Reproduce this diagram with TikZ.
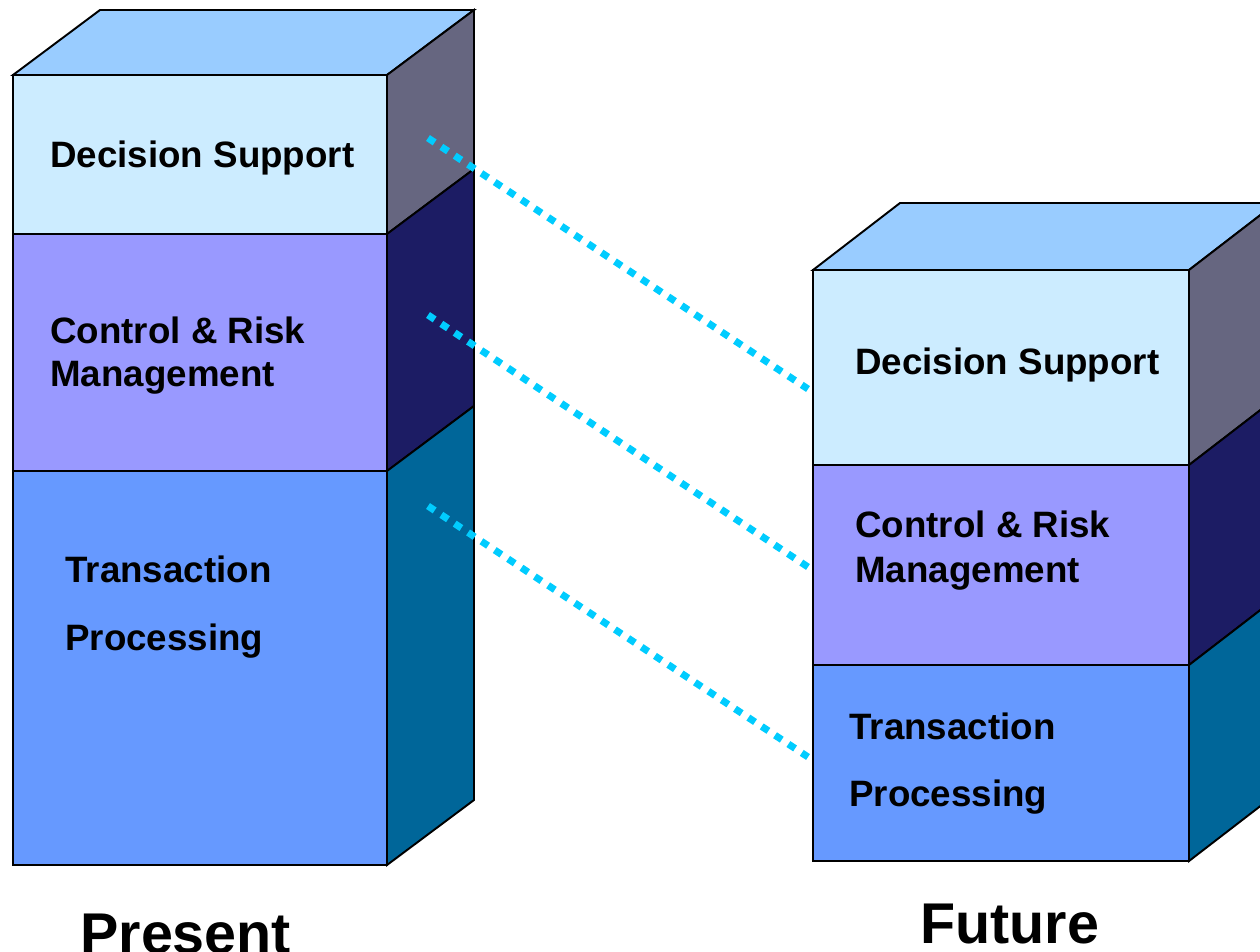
\documentclass[tikz,border=0pt]{standalone}
\usepackage{fontspec}
\setmainfont{Liberation Sans}
\definecolor{topc}{HTML}{99CCFF}
\definecolor{dsf}{HTML}{CCECFF}
\definecolor{dss}{HTML}{666680}
\definecolor{crf}{HTML}{9999FF}
\definecolor{crs}{HTML}{1C1C64}
\definecolor{tpf}{HTML}{6699FF}
\definecolor{tps}{HTML}{006699}
\definecolor{linkc}{HTML}{00CCFF}
\begin{document}
\begin{tikzpicture}[x=0.02cm,y=-0.02cm,
  edge/.style={draw=black,line width=1.1pt,line join=miter},
  lbl/.style={inner sep=0pt,anchor=base west,font=\fontsize{20.9}{25}\selectfont\bfseries},
  ttl/.style={inner sep=0pt,anchor=base west,font=\fontsize{32.7}{38}\selectfont\bfseries},
  link/.style={draw=linkc,line width=4pt,line cap=butt,dash pattern=on 0.16cm off 0.16cm}]
\path[use as bounding box] (0,0) rectangle (1260,951);
\clip (0,0) rectangle (1260,951);

% ---- Present stack ----
\filldraw[edge,fill=topc] (13,75) -- (387,75) -- (474,10) -- (100,10) -- cycle;
\filldraw[edge,fill=dss] (387,75) -- (474,10) -- (474,169) -- (387,234) -- cycle;
\filldraw[edge,fill=crs] (387,234) -- (474,169) -- (474,406) -- (387,471) -- cycle;
\filldraw[edge,fill=tps] (387,471) -- (474,406) -- (474,800) -- (387,865) -- cycle;
\filldraw[edge,fill=dsf] (13,75) rectangle (387,234);
\filldraw[edge,fill=crf] (13,234) rectangle (387,471);
\filldraw[edge,fill=tpf] (13,471) rectangle (387,865);

% ---- Future stack ----
\filldraw[edge,fill=topc] (813,270) -- (1189,270) -- (1276,203) -- (900,203) -- cycle;
\filldraw[edge,fill=dss] (1189,270) -- (1276,203) -- (1276,398) -- (1189,465) -- cycle;
\filldraw[edge,fill=crs] (1189,465) -- (1276,398) -- (1276,598) -- (1189,665) -- cycle;
\filldraw[edge,fill=tps] (1189,665) -- (1276,598) -- (1276,794) -- (1189,861) -- cycle;
\filldraw[edge,fill=dsf] (813,270) rectangle (1189,465);
\filldraw[edge,fill=crf] (813,465) rectangle (1189,665);
\filldraw[edge,fill=tpf] (813,665) rectangle (1189,861);

% ---- layer labels ----
\node[lbl] (pds)  at (50,167) {Decision Support};
\node[lbl] (pcr1) at (50,343) {Control \& Risk};
\node[lbl] (pcr2) at (50,386) {Management};
\node[lbl] (ptp1) at (65,582) {Transaction};
\node[lbl] (ptp2) at (65,650) {Processing};

\node[lbl] (fds)  at (855,374) {Decision Support};
\node[lbl] (fcr1) at (855,537) {Control \& Risk};
\node[lbl] (fcr2) at (855,582) {Management};
\node[lbl] (ftp1) at (849,739) {Transaction};
\node[lbl] (ftp2) at (849,806) {Processing};

% ---- titles ----
\node[ttl] (present) at (80,953) {Present};
\node[ttl] (future)  at (920,943) {Future};

% ---- dotted links between matching layers ----
\coordinate (pdsR) at (428,138);
\coordinate (pcrR) at (428,315);
\coordinate (ptpR) at (428,506);
\coordinate (fdsL) at (808,389);
\coordinate (fcrL) at (808,567);
\coordinate (ftpL) at (808,757);
\draw[link] (pdsR) -- (fdsL);
\draw[link] (pcrR) -- (fcrL);
\draw[link] (ptpR) -- (ftpL);
\end{tikzpicture}
\end{document}
